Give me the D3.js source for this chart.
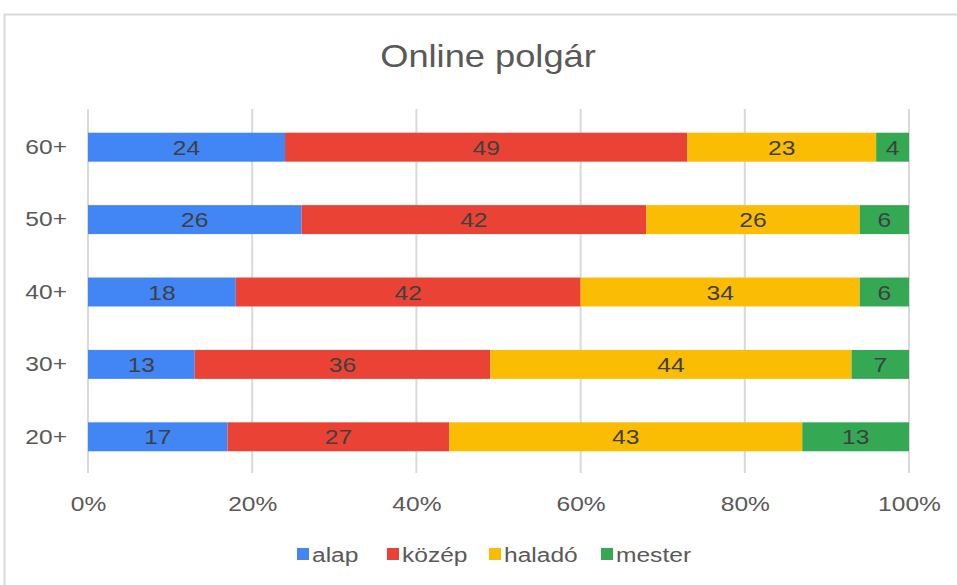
<!DOCTYPE html>
<html>
<head>
<meta charset="utf-8">
<script src="https://cdn.jsdelivr.net/npm/d3@7"></script>
<style>
  body { margin: 0; background: #fff; }
  text { font-family: "Liberation Sans", Arial, sans-serif; }
</style>
</head>
<body>
<svg id="chart" width="957" height="585"></svg>
<script>
// data
var groups = ["60+", "50+", "40+", "30+", "20+"];
var levels = ["alap", "közép", "haladó", "mester"];
var alap   = [24, 26, 18, 13, 17];
var kozep  = [49, 42, 42, 36, 27];
var halado = [23, 26, 34, 44, 43];
var mester = [4, 6, 6, 7, 13];
var xTicks = [0, 20, 40, 60, 80, 100];

var colors = ["#4285f4", "#ea4335", "#fbbc04", "#34a853"];
var stretch = 1.17; // the text in the picture is a bit wide

var width = 957, height = 585;
var margin = {top: 111, right: 48, bottom: 112, left: 88};
var w = width - margin.left - margin.right;
var h = height - margin.top - margin.bottom;

var rows = groups.map(function(g, i) {
  return {group: g, "alap": alap[i], "közép": kozep[i], "haladó": halado[i], "mester": mester[i]};
});

var series = d3.stack().keys(levels)(rows);

var svg = d3.select("#chart");

// place a text at (px,py) and widen it
function wide(sel, px, py) {
  sel.attr("transform", function(d, i) {
    return "translate(" + px(d, i) + "," + py(d, i) + ") scale(" + stretch + ",1)";
  });
}

// outer frame
svg.append("rect")
  .attr("x", 4.5).attr("y", 14.5)
  .attr("width", 970).attr("height", 600)
  .attr("fill", "#fff")
  .attr("stroke", "#d9d9d9")
  .attr("stroke-width", 2);

svg.append("text")
  .attr("transform", "translate(488,67) scale(" + stretch + ",1)")
  .attr("text-anchor", "middle")
  .attr("fill", "#595959")
  .style("font-size", "31px")
  .text("Online polgár");

var chart = svg.append("g")
  .attr("transform", "translate(" + margin.left + "," + margin.top + ")");

var x = d3.scaleLinear().domain([0, 100]).range([0, w]);
var y = d3.scaleBand().domain(groups).range([0, h]).paddingInner(0.6).paddingOuter(0.3);

// grid lines
chart.selectAll(".grid")
  .data(xTicks)
  .enter().append("line")
    .attr("x1", function(d) { return x(d); })
    .attr("x2", function(d) { return x(d); })
    .attr("y1", -2).attr("y2", h)
    .attr("stroke", "#d9d9d9")
    .attr("stroke-width", 2);

// x axis labels
var xAxis = d3.axisBottom(x)
  .tickValues(xTicks)
  .tickSize(0)
  .tickPadding(0)
  .tickFormat(function(d) { return d + "%"; });

var gx = chart.append("g")
  .attr("transform", "translate(0," + h + ")")
  .call(xAxis);
gx.select(".domain").remove();
gx.selectAll("text")
  .attr("y", null).attr("dy", null)
  .attr("transform", "translate(0,38) scale(" + stretch + ",1)")
  .attr("fill", "#595959")
  .style("font-size", "21px")
  .style("font-family", "Liberation Sans, Arial, sans-serif");

// y axis labels
var yAxis = d3.axisLeft(y).tickSize(0).tickPadding(0);
var gy = chart.append("g").call(yAxis);
gy.select(".domain").remove();
gy.selectAll("text")
  .attr("x", null)
  .attr("transform", "translate(-21,0) scale(" + stretch + ",1)")
  .attr("fill", "#595959")
  .style("font-size", "21px")
  .style("font-family", "Liberation Sans, Arial, sans-serif");

// bars
var layer = chart.selectAll(".layer")
  .data(series)
  .enter().append("g")
    .attr("fill", function(d, i) { return colors[i]; });

layer.selectAll("rect")
  .data(function(d) { return d; })
  .enter().append("rect")
    .attr("x", function(d) { return x(d[0]); })
    .attr("y", function(d) { return y(d.data.group); })
    .attr("width", function(d) { return x(d[1]) - x(d[0]); })
    .attr("height", y.bandwidth());

layer.selectAll(".lbl")
  .data(function(d) { return d; })
  .enter().append("text")
    .attr("dy", "0.36em")
    .attr("text-anchor", "middle")
    .attr("fill", "#404040")
    .style("font-size", "21px")
    .text(function(d) { return d[1] - d[0]; })
    .call(wide,
      function(d) { return (x(d[0]) + x(d[1])) / 2; },
      function(d) { return y(d.data.group) + y.bandwidth() / 2; });

// legend
var legendX = [297, 387, 489, 601];
var legend = svg.append("g").attr("transform", "translate(0,554)");
var item = legend.selectAll("g")
  .data(levels)
  .enter().append("g")
    .attr("transform", function(d, i) { return "translate(" + legendX[i] + ",0)"; });
item.append("rect")
  .attr("x", 0).attr("y", -6)
  .attr("width", 12).attr("height", 12)
  .attr("fill", function(d, i) { return colors[i]; });
item.append("text")
  .attr("dy", "0.36em")
  .attr("fill", "#595959")
  .style("font-size", "21px")
  .text(function(d) { return d; })
  .call(wide, function() { return 15; }, function() { return 0; });
</script>
</body>
</html>
